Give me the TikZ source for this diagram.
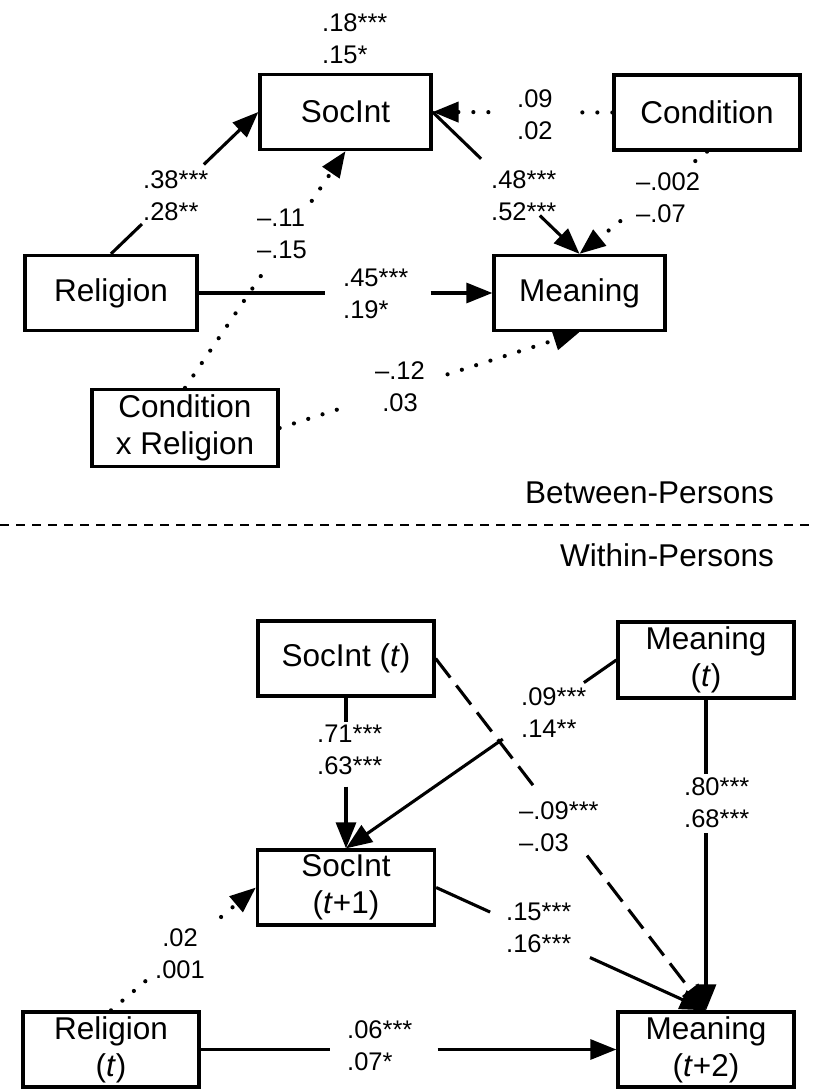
\documentclass[tikz,border=0pt]{standalone}
\usepackage{fontspec}
\setmainfont{Liberation Sans}
\usetikzlibrary{arrows.meta,calc}

\newcommand\boxfont{\fontsize{31.5}{37}\selectfont}
\newcommand\coeffont{\fontsize{25.5}{32}\selectfont}

% a path from #2 to #3 in style #1, broken between fractions #4 and #5
% to leave room for its coefficients, with an arrow tip at #3
\newcommand\gapconn[5]{%
  \draw[#1] (#2) -- ($(#2)!#4!(#3)$);
  \draw[#1,-{Triangle[length=26pt,width=20pt]}] ($(#2)!#5!(#3)$) -- (#3);
}

\tikzset{
  box/.style={draw, line width=3.3pt, minimum width=#1, minimum height=75pt,
              inner sep=0pt, align=center, font=\boxfont},
  coef/.style={inner sep=0pt, align=left, font=\coeffont, anchor=west},
  coefc/.style={inner sep=0pt, align=center, font=\coeffont},
  panel/.style={inner sep=0pt, font=\boxfont, anchor=east},
  solidline/.style={line width=3.1pt},
  dotline/.style={line width=4.2pt, line cap=round, dash pattern=on 0pt off 15pt},
  dashline/.style={line width=3.1pt, dash pattern=on 24pt off 10pt},
}

\begin{document}
\begin{tikzpicture}[x=1pt,y=-1pt]
\useasboundingbox (0,0) rectangle (814,1091);

% ---- between-persons model ----
\node[box=171pt] (socint) at (345.5,112) {SocInt};
\node[box=186pt] (cond) at (707,112.5) {Condition};
\node[box=172pt] (rel) at (111,293) {Religion};
\node[box=171pt] (mean) at (579.5,293) {Meaning};
\node[box=186pt, minimum height=77pt] (cxr) at (185,428) {Condition\\x Religion};

\gapconn{dotline}{cond.west}{socint.east}{0.21}{0.69}
\gapconn{solidline}{rel.north}{socint.west}{0.21}{0.63}
\gapconn{solidline}{socint.east}{mean.north}{0.33}{0.73}
\gapconn{dotline}{cond.south}{mean.north}{0.10}{0.68}
\gapconn{dotline}{cxr.north}{socint.south}{0.51}{0.79}
\gapconn{solidline}{rel.east}{mean.west}{0.43}{0.79}
\gapconn{dotline}{cxr.east}{mean.south}{0.21}{0.56}

\node[coef] (r2soc) at (322,39) {.18***\\.15*};
\node[coef] (kcond) at (517,115) {.09\\.02};
\node[coef] (krel) at (143,196) {.38***\\.28**};
\node[coef] (ksoc) at (491,196) {.48***\\.52***};
\node[coef] (kcondm) at (636,198) {\textendash.002\\\textendash.07};
\node[coef] (kcxr) at (257,234) {\textendash.11\\\textendash.15};
\node[coef] (krelm) at (343,294) {.45***\\.19*};
\node[coefc] (kcxrm) at (400,386.5) {\textendash.12\\.03};

\node[panel] (between) at (774,493) {Between-Persons};
\draw[line width=1.7pt, dash pattern=on 9pt off 7pt] (0,525) -- (814,525);
\node[panel] (within) at (774,555) {Within-Persons};

% ---- within-persons model ----
\node[box=176pt] (sit) at (346,658.5) {SocInt (\textit{t})};
\node[box=176pt, minimum height=76pt] (mt) at (706,660) {Meaning\\(\textit{t})};
\node[box=177pt] (sit1) at (346,887.5) {SocInt\\(\textit{t}+1)};
\node[box=176pt] (relt) at (111,1049.5) {Religion\\(\textit{t})};
\node[box=176pt] (mt2) at (706,1049.5) {Meaning\\(\textit{t}+2)};

\gapconn{solidline}{sit.south}{sit1.north}{0.16}{0.59}
\gapconn{solidline}{mt.west}{sit1.north}{0.12}{0.42}
\gapconn{dashline}{sit.east}{mt2.north}{0.36}{0.56}
\gapconn{solidline}{mt.south}{mt2.north}{0.24}{0.43}
\gapconn{solidline}{sit1.east}{mt2.north}{0.20}{0.57}
\gapconn{dotline}{relt.north}{sit1.west}{0.27}{0.76}
\gapconn{solidline}{relt.east}{mt2.west}{0.31}{0.57}

\node[coef] (ksit) at (317,750) {.71***\\.63***};
\node[coef] (kmt) at (521,712.5) {.09***\\.14**};
\node[coef] (ksitm) at (519,826.5) {\textendash.09***\\\textendash.03};
\node[coef] (kmtm) at (684,802.5) {.80***\\.68***};
\node[coef] (ksit1) at (506,927.5) {.15***\\.16***};
\node[coefc] (krelt) at (180,953.5) {.02\\.001};
\node[coef] (kreltm) at (347,1046) {.06***\\.07*};
\end{tikzpicture}
\end{document}
